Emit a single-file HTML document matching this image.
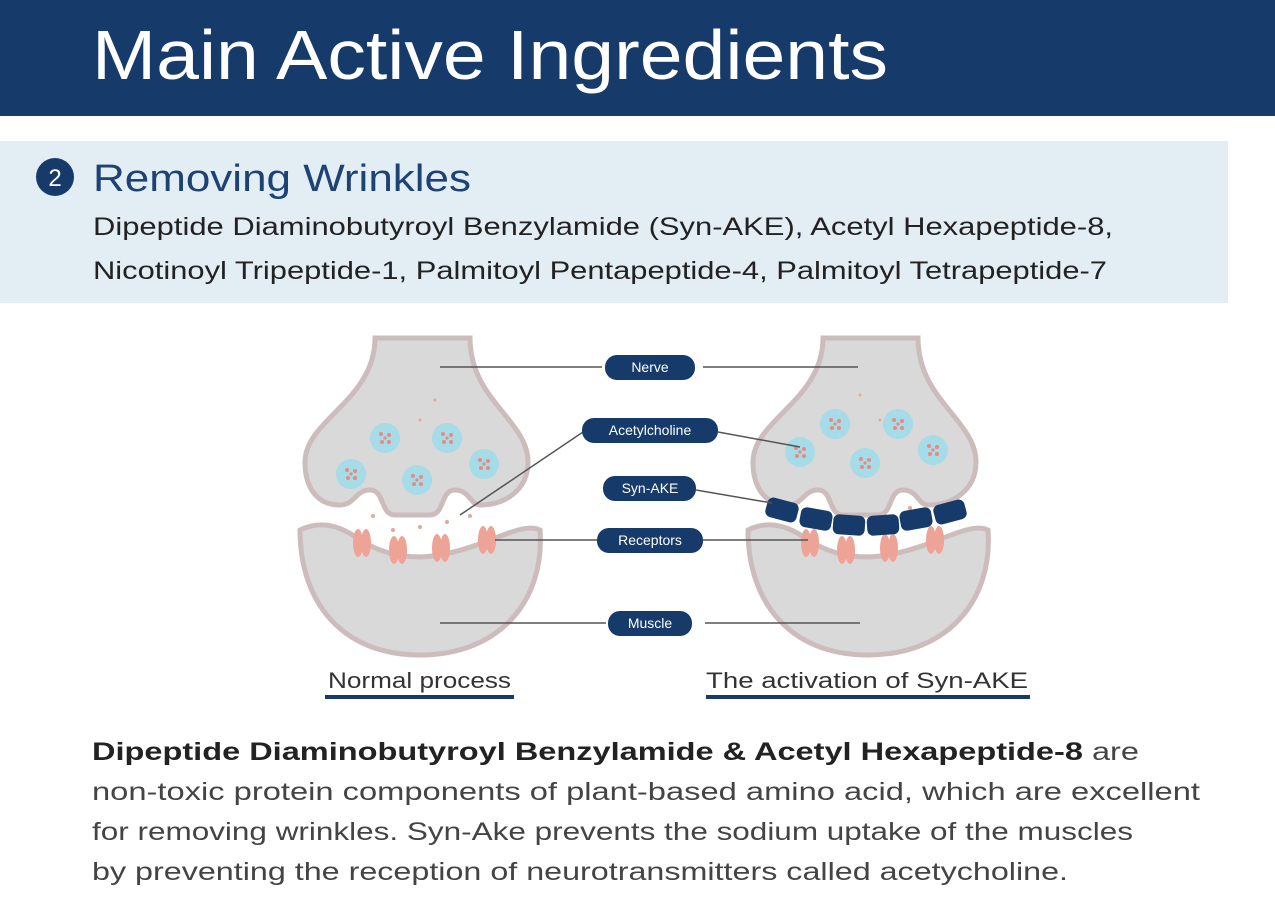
<!DOCTYPE html>
<html><head><meta charset="utf-8"><style>
html,body{margin:0;padding:0;background:#fff;}
svg{display:block;font-family:"Liberation Sans",sans-serif;}
</style></head><body>
<svg width="1275" height="899" viewBox="0 0 1275 899" xmlns="http://www.w3.org/2000/svg">
<rect x="0" y="0" width="1275" height="116" fill="#163a6a"/>
<text x="92" y="79" font-size="70" fill="#fff" textLength="796" lengthAdjust="spacingAndGlyphs">Main Active Ingredients</text>
<rect x="0" y="141" width="1228" height="162" fill="#e3edf4"/>
<circle cx="55" cy="177" r="19" fill="#163a6a"/>
<text x="55" y="186" font-size="24" fill="#fff" text-anchor="middle">2</text>
<text x="93" y="191" font-size="38" fill="#1d4274" textLength="378" lengthAdjust="spacingAndGlyphs">Removing Wrinkles</text>
<text x="93" y="235" font-size="25" fill="#222" textLength="1020" lengthAdjust="spacingAndGlyphs">Dipeptide Diaminobutyroyl Benzylamide (Syn-AKE), Acetyl Hexapeptide-8,</text>
<text x="93" y="279" font-size="25" fill="#222" textLength="1014" lengthAdjust="spacingAndGlyphs">Nicotinoyl Tripeptide-1, Palmitoyl Pentapeptide-4, Palmitoyl Tetrapeptide-7</text>

<defs>
<g id="syn">
  <path d="M375 338 L470 338 C470 400 528 420 528 462 C528 490 505 505 480 505 C470 505 470 490 455 490 C440 490 445 515 430 515 L395 515 C380 515 385 490 370 490 C355 490 355 505 340 505 C315 505 305 485 305 462 C305 420 375 400 375 338 Z" fill="#d9d9d9" stroke="#cdbcbc" stroke-width="5"/>
  <path d="M300 530 C320 520 340 525 360 540 C400 565 440 560 490 540 C515 530 530 525 540 530 C545 600 500 655 420 655 C340 655 300 600 300 530 Z" fill="#d9d9d9" stroke="#cdbcbc" stroke-width="5"/>
  <g fill="#eda396">
    <ellipse cx="358" cy="543" rx="5" ry="14"/><ellipse cx="366" cy="543" rx="5" ry="14"/>
    <ellipse cx="394" cy="550" rx="5" ry="14"/><ellipse cx="402" cy="550" rx="5" ry="14"/>
    <ellipse cx="437" cy="548" rx="5" ry="14"/><ellipse cx="445" cy="548" rx="5" ry="14"/>
    <ellipse cx="483" cy="540" rx="5" ry="14"/><ellipse cx="491" cy="540" rx="5" ry="14"/>
  </g>
</g>
<g id="ves"><circle r="15" fill="#a6dbe8"/><g fill="#e88a80"><circle cx="-4" cy="-4" r="2"/><circle cx="4" cy="-3" r="2"/><circle cx="-3" cy="4" r="2"/><circle cx="4" cy="4" r="2"/><circle cx="0" cy="0" r="1.6"/></g></g>
</defs>
<use href="#syn"/>
<use href="#syn" transform="translate(448,0)"/>
<use href="#ves" x="385" y="438"/><use href="#ves" x="447" y="438"/><use href="#ves" x="351" y="474"/><use href="#ves" x="417" y="480"/><use href="#ves" x="484" y="464"/>
<use href="#ves" x="835" y="424"/><use href="#ves" x="898" y="424"/><use href="#ves" x="800" y="452"/><use href="#ves" x="865" y="463"/><use href="#ves" x="933" y="450"/>
<g fill="#eda396"><circle cx="373" cy="516" r="2"/><circle cx="393" cy="530" r="2"/><circle cx="420" cy="527" r="2"/><circle cx="447" cy="522" r="2"/><circle cx="470" cy="516" r="2"/><circle cx="810" cy="512" r="2"/><circle cx="910" cy="508" r="2"/><circle cx="945" cy="511" r="2"/><circle cx="435" cy="400" r="1.5"/><circle cx="420" cy="420" r="1.5"/><circle cx="880" cy="420" r="1.5"/><circle cx="860" cy="395" r="1.5"/></g>
<g fill="#163a6a">
<rect x="766" y="500" width="32" height="20" rx="6" transform="rotate(15 782 510)"/>
<rect x="800" y="509" width="32" height="20" rx="6" transform="rotate(10 816 519)"/>
<rect x="833" y="515" width="32" height="20" rx="6" transform="rotate(4 849 525)"/>
<rect x="867" y="515" width="32" height="20" rx="6" transform="rotate(-4 883 525)"/>
<rect x="900" y="509" width="32" height="20" rx="6" transform="rotate(-10 916 519)"/>
<rect x="934" y="502" width="32" height="20" rx="6" transform="rotate(-15 950 512)"/>
</g>
<g stroke="#555" stroke-width="1.5" fill="none">
<line x1="440" y1="367" x2="602" y2="367"/><line x1="703" y1="367" x2="858" y2="367"/>
<line x1="583" y1="432" x2="460" y2="515"/><line x1="718" y1="432" x2="800" y2="447"/>
<line x1="696" y1="490" x2="772" y2="503"/>
<line x1="495" y1="540" x2="597" y2="540"/><line x1="703" y1="540" x2="808" y2="540"/>
<line x1="440" y1="623" x2="606" y2="623"/><line x1="705" y1="623" x2="860" y2="623"/>
</g>
<g fill="#163a6a">
<rect x="605" y="355" width="90" height="25" rx="12"/>
<rect x="582" y="418" width="136" height="25" rx="12"/>
<rect x="603" y="476" width="93" height="25" rx="12"/>
<rect x="597" y="528" width="106" height="25" rx="12"/>
<rect x="608" y="611" width="84" height="25" rx="12"/>
</g>
<g fill="#fff" font-size="14" text-anchor="middle">
<text x="650" y="372">Nerve</text>
<text x="650" y="435">Acetylcholine</text>
<text x="650" y="493">Syn-AKE</text>
<text x="650" y="545">Receptors</text>
<text x="650" y="628">Muscle</text>
</g>
<text x="328" y="688" font-size="22" fill="#333" textLength="183" lengthAdjust="spacingAndGlyphs">Normal process</text>
<rect x="325" y="695" width="189" height="4" fill="#163a6a"/>
<text x="706" y="688" font-size="22" fill="#333" textLength="322" lengthAdjust="spacingAndGlyphs">The activation of Syn-AKE</text>
<rect x="706" y="695" width="324" height="4" fill="#163a6a"/>

<text x="92" y="760" font-size="25" fill="#444" textLength="1047" lengthAdjust="spacingAndGlyphs"><tspan font-weight="bold" fill="#222">Dipeptide Diaminobutyroyl Benzylamide &amp; Acetyl Hexapeptide-8</tspan> are</text>
<text x="92" y="800" font-size="25" fill="#444" textLength="1108" lengthAdjust="spacingAndGlyphs">non-toxic protein components of plant-based amino acid, which are excellent</text>
<text x="92" y="840" font-size="25" fill="#444" textLength="1041" lengthAdjust="spacingAndGlyphs">for removing wrinkles. Syn-Ake prevents the sodium uptake of the muscles</text>
<text x="92" y="880" font-size="25" fill="#444" textLength="976" lengthAdjust="spacingAndGlyphs">by preventing the reception of neurotransmitters called acetycholine.</text>
</svg>
</body></html>
